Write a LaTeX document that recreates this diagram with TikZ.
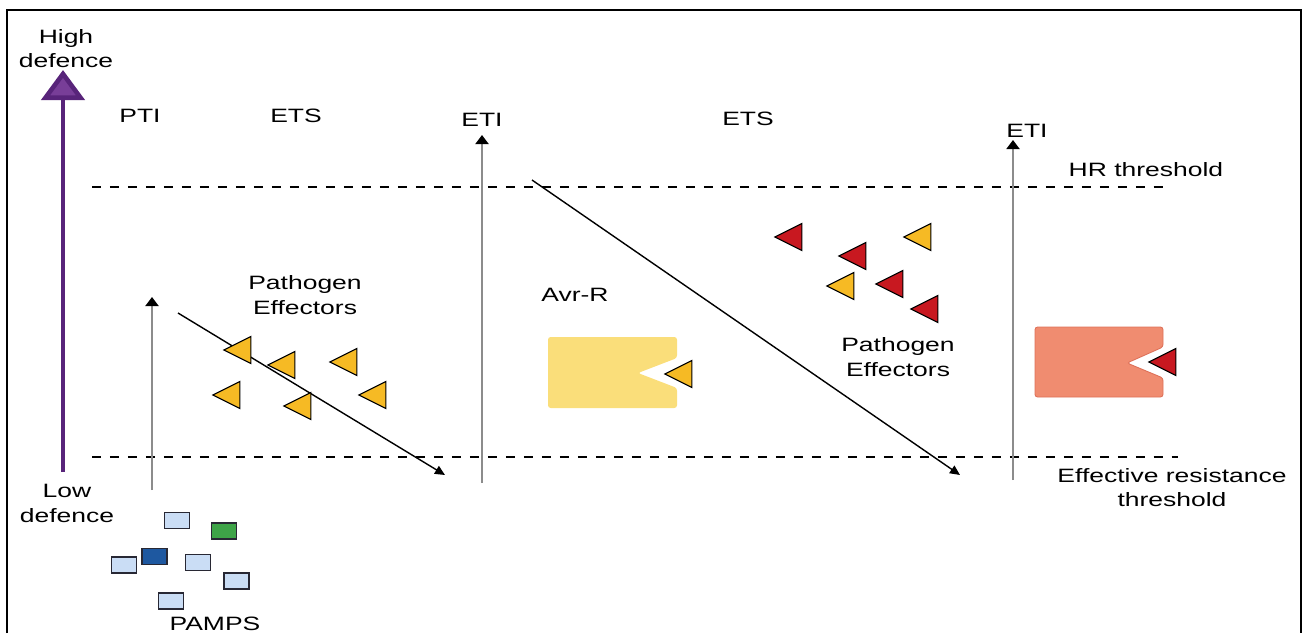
\documentclass[tikz,border=0pt]{standalone}
\usepackage{fontspec}
\setmainfont{Liberation Sans}[FakeStretch=1.37]
\usetikzlibrary{arrows.meta,shapes.geometric}

\definecolor{purpline}{RGB}{88,36,122}
\definecolor{purphead}{RGB}{120,62,152}
\definecolor{respgray}{RGB}{140,140,140}
\definecolor{effyellow}{RGB}{246,186,36}
\definecolor{effred}{RGB}{200,24,32}
\definecolor{avrfill}{RGB}{250,222,122}
\definecolor{rfill}{RGB}{240,140,112}
\definecolor{rdraw}{RGB}{222,112,88}
\definecolor{pamplight}{RGB}{202,221,245}
\definecolor{pampgreen}{RGB}{62,164,72}
\definecolor{pampblue}{RGB}{30,88,160}
\definecolor{pampedge}{RGB}{40,40,52}

\begin{document}
\begin{tikzpicture}
        [x=0.02cm, y=-0.02cm,
        lbl/.style={font=\fontsize{11}{14}\selectfont, inner sep=0, align=center},
        threshold/.style={black, thick, dash pattern=on 0.18cm off 0.18cm},
        response/.style={draw=respgray, line width=1.1pt, -{Triangle[color=black, length=0.18cm, width=0.26cm]}},
        spread/.style={black, line width=0.8pt, -{Triangle[length=0.2cm, width=0.18cm]}},
        effector/.style={isosceles triangle, shape border rotate=180, isosceles triangle stretches,
          minimum width=0.54cm, minimum height=0.54cm, inner sep=0, draw=black, line width=0.6pt, xshift=0.11cm},
        effY/.style={effector, fill=effyellow},
        effR/.style={effector, fill=effred},
        pamp/.style={draw=pampedge, line width=0.8pt, minimum width=0.5cm, minimum height=0.32cm, inner sep=0, fill=pamplight}]

        \useasboundingbox (0,0) rectangle (1303,633);

        % frame, open at the bottom
        \draw[line width=1.4pt] (7,633) -- (7,10) -- (1301,10) -- (1301,633);

        % defence axis
        \coordinate (lo) at (63,472);
        \coordinate (hi) at (63,70);
        \draw[purpline, line width=2.6pt, -{Triangle[length=0.6cm, width=0.86cm, fill=purphead]}] (lo) -- (hi);
        \node[lbl] (high) at (66,48.5) {High\\defence};
        \node[lbl] (low) at (67,503.5) {Low\\defence};

        % phase labels
        \node[lbl, anchor=base] (pti) at (140,122) {PTI};
        \node[lbl, anchor=base] (ets1) at (296,122) {ETS};
        \node[lbl, anchor=base] (eti1) at (482,126) {ETI};
        \node[lbl, anchor=base] (ets2) at (748,125) {ETS};
        \node[lbl, anchor=base] (eti2) at (1027,137) {ETI};

        % thresholds
        \coordinate (hr0) at (92,187);
        \coordinate (hr1) at (1170,187);
        \coordinate (er0) at (92,457);
        \coordinate (er1) at (1178,457);
        \draw[threshold] (hr0) -- (hr1);
        \draw[threshold] (er0) -- (er1);
        \node[lbl, anchor=base] (hr) at (1146,176) {HR threshold};
        \node[lbl] (er) at (1172,487.5) {Effective resistance\\threshold};

        % responses (grey) and effector spread (black)
        \coordinate (pti0) at (152,490);
        \coordinate (pti1) at (152,297);
        \coordinate (eti10) at (482,483);
        \coordinate (eti11) at (482,135);
        \coordinate (eti20) at (1013,480);
        \coordinate (eti21) at (1013,140);
        \draw[response] (pti0) -- (pti1);
        \draw[response] (eti10) -- (eti11);
        \draw[response] (eti20) -- (eti21);
        \coordinate (sp10) at (178,313);
        \coordinate (sp11) at (445,475);
        \coordinate (sp20) at (532,180);
        \coordinate (sp21) at (960,475);
        \draw[spread] (sp10) -- (sp11);
        \draw[spread] (sp20) -- (sp21);

        % R proteins
        \fill[avrfill, rounded corners=1.5pt] (548,337) -- (677,337) -- (677,358) -- (638,373)
          -- (677,388) -- (677,408) -- (548,408) -- cycle;
        \filldraw[fill=rfill, draw=rdraw, line width=0.5pt, rounded corners=1.5pt] (1035,327) -- (1163,327)
          -- (1163,347) -- (1127,363) -- (1163,378) -- (1163,397) -- (1035,397) -- cycle;
        \node[lbl] (avr) at (575,295) {Avr-R};

        % effectors
        \node[lbl] (pe1) at (305,295) {Pathogen\\Effectors};
        \node[effY] (e1) at (237,350) {};
        \node[effY] (e2) at (281,365) {};
        \node[effY] (e3) at (343,362) {};
        \node[effY] (e4) at (226,395) {};
        \node[effY] (e5) at (297,406) {};
        \node[effY] (e6) at (372,395) {};
        \node[effY] (e7) at (678,374) {};

        \node[lbl] (pe2) at (898,357) {Pathogen\\Effectors};
        \node[effR] (r1) at (788,237) {};
        \node[effY] (y1) at (917,237) {};
        \node[effR] (r2) at (852,256) {};
        \node[effY] (y2) at (840,286) {};
        \node[effR] (r3) at (889,284) {};
        \node[effR] (r4) at (924,309) {};
        \node[effR] (r5) at (1162,362) {};

        % PAMPs
        \node[pamp] (p1) at (177,520.5) {};
        \node[pamp, fill=pampgreen] (p2) at (224,531) {};
        \node[pamp, fill=pampblue] (p3) at (154.5,556.5) {};
        \node[pamp] (p4) at (124,565) {};
        \node[pamp] (p5) at (198,562.5) {};
        \node[pamp] (p6) at (236.5,581) {};
        \node[pamp] (p7) at (171,601) {};
        \node[lbl, anchor=base] (pamps) at (215,630) {PAMPS};

\end{tikzpicture}
\end{document}
